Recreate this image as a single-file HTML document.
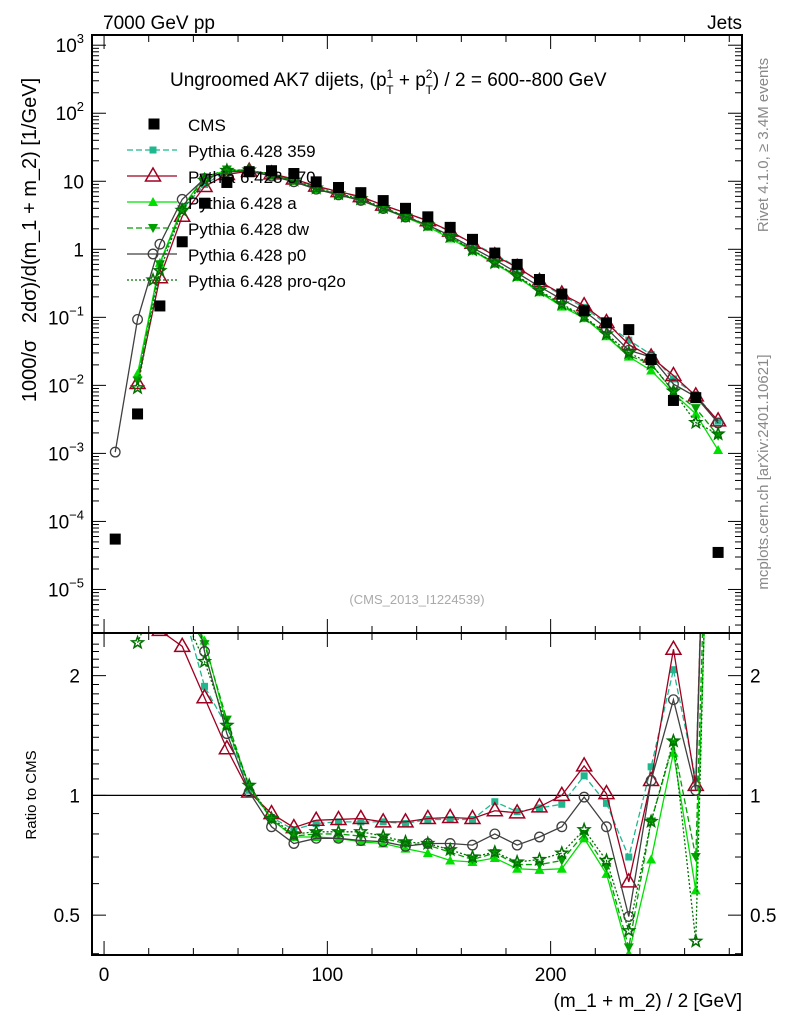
<!DOCTYPE html>
<html><head><meta charset="utf-8">
<style>
html,body{margin:0;padding:0;background:#fff;}
svg{display:block;font-family:"Liberation Sans",sans-serif;}
</style></head>
<body>
<svg id="chart" width="786" height="1024" viewBox="0 0 786 1024" xmlns="http://www.w3.org/2000/svg">
<rect x="0" y="0" width="786" height="1024" fill="#fff"/>
<text x="103" y="29" font-size="19">7000 GeV pp</text>
<text x="742" y="29" font-size="19" text-anchor="end">Jets</text>
<text x="170" y="86" font-size="19">Ungroomed AK7 dijets, (p<tspan font-size="12" dy="-8">1</tspan><tspan font-size="12" dx="-7" dy="16">T</tspan><tspan dy="-8"> + p</tspan><tspan font-size="12" dy="-8">2</tspan><tspan font-size="12" dx="-7" dy="16">T</tspan><tspan dy="-8">) / 2 = 600--800 GeV</tspan></text>
<text transform="translate(36,240) rotate(-90)" font-size="20" text-anchor="middle">1000/σ&#160;&#160;&#160;2dσ)/d(m_1 + m_2) [1/GeV]</text>
<text transform="translate(36,795) rotate(-90)" font-size="15" text-anchor="middle">Ratio to CMS</text>
<text x="742" y="1007" font-size="19" text-anchor="end">(m_1 + m_2) / 2 [GeV]</text>
<text transform="translate(768,145) rotate(-90)" font-size="15" fill="#888" text-anchor="middle">Rivet 4.1.0, ≥ 3.4M events</text>
<text transform="translate(768,472) rotate(-90)" font-size="15" fill="#888" text-anchor="middle">mcplots.cern.ch [arXiv:2401.10621]</text>
<text x="417" y="604" font-size="13" fill="#aaa" text-anchor="middle">(CMS_2013_I1224539)</text>
<g id="main"></g>
<g id="ratio"></g>
<g id="axes"></g>
<g id="legend"></g>
</svg>
<script>
const bins = [5,15,25,35,45,55,65,75,85,95,105,115,125,135,145,155,165,175,185,195,205,215,225,235,245,255,265,275];
const cms = [5.5e-5,3.8e-3,0.147,1.29,4.76,9.6,13.8,14.3,13,9.8,8.1,6.8,5.2,4.0,3.0,2.1,1.4,0.88,0.60,0.36,0.22,0.125,0.083,0.066,0.024,0.006,0.0066,3.5e-5];
const r359 = [null,3.3,4.0,3.0,1.88,1.49,1.03,0.88,0.82,0.85,0.858,0.858,0.858,0.85,0.87,0.87,0.87,0.964,0.91,0.93,0.95,1.12,0.955,0.7,1.18,2.07,1.1,85];
const r370 = [null,2.8,2.6,2.37,1.76,1.31,1.02,0.90,0.83,0.866,0.87,0.875,0.858,0.858,0.875,0.88,0.875,0.915,0.904,0.936,1.0,1.186,1.01,0.606,1.09,2.33,1.06,86];
const rA = [null,3.9,4.3,3.2,2.45,1.5,1.055,0.87,0.786,0.786,0.78,0.764,0.757,0.735,0.716,0.686,0.68,0.696,0.654,0.65,0.654,0.78,0.635,0.40,0.69,1.28,0.577,32];
const rDW = [null,3.1,4.1,3.0,2.4,1.55,1.05,0.87,0.79,0.80,0.80,0.79,0.78,0.757,0.75,0.72,0.69,0.716,0.67,0.67,0.686,0.80,0.66,0.415,0.86,1.35,0.70,52];
const rP0 = [19,24.5,8.1,4.2,2.3,1.43,1.02,0.834,0.757,0.78,0.78,0.77,0.765,0.745,0.757,0.757,0.75,0.80,0.75,0.786,0.834,0.99,0.834,0.496,1.09,1.74,1.03,80];
const rQ2O = [null,2.42,3.3,2.9,2.17,1.5,1.06,0.875,0.80,0.81,0.81,0.81,0.79,0.764,0.757,0.73,0.70,0.72,0.68,0.69,0.716,0.82,0.686,0.457,0.86,1.37,0.43,55];
const seriesNames = ["Pythia 6.428 359","Pythia 6.428 370","Pythia 6.428 a","Pythia 6.428 dw","Pythia 6.428 p0","Pythia 6.428 pro-q2o"];
const mainTicks = [3,2,1,0,-1,-2,-3,-4,-5];
const ratioTicks = [0.5,1,2];
const xTicks = [0,100,200];

const NS="http://www.w3.org/2000/svg";
const X0=92,X1=742,MT=35,MB=633,RB=955;
const xMin=-5.4,xMax=285.7;
const yTop=3.15,yBot=-5.64;
const rTop=Math.log10(2.56),rBot=Math.log10(0.397);
function xs(v){return X0+(v-xMin)/(xMax-xMin)*(X1-X0);}
function ys(v){return MT+(yTop-Math.log10(v))/(yTop-yBot)*(MB-MT);}
function yr(v){return MB+(rTop-Math.log10(v))/(rTop-rBot)*(RB-MB);}
function mk(tag,attrs,parent){const e=document.createElementNS(NS,tag);for(const k in attrs)e.setAttribute(k,attrs[k]);parent.appendChild(e);return e;}

const styles=[
 {c:"#1fb88e",dash:"6,3",m:"sq"},
 {c:"#a00020",dash:"",m:"tri"},
 {c:"#00e000",dash:"",m:"ftri"},
 {c:"#00a000",dash:"6,3",m:"dtri"},
 {c:"#404040",dash:"",m:"circ"},
 {c:"#007000",dash:"2,2",m:"star"}];
const ratios=[r359,r370,rA,rDW,rP0,rQ2O];

function marker(g,type,x,y,c){
 let e;
 if(type==="sq") e=mk("rect",{x:x-3.5,y:y-3.5,width:7,height:7,fill:c},g);
 else if(type==="tri") e=mk("polygon",{points:`${x},${y-8} ${x-7.5},${y+5} ${x+7.5},${y+5}`,fill:"none",stroke:c,"stroke-width":1.5},g);
 else if(type==="ftri") e=mk("polygon",{points:`${x},${y-5} ${x-5},${y+4} ${x+5},${y+4}`,fill:c},g);
 else if(type==="dtri") e=mk("polygon",{points:`${x},${y+5} ${x-5},${y-4} ${x+5},${y-4}`,fill:c},g);
 else if(type==="circ") e=mk("circle",{cx:x,cy:y,r:4.8,fill:"none",stroke:c,"stroke-width":1.3},g);
 else if(type==="star"){let p=[];for(let i=0;i<10;i++){const a=-Math.PI/2+i*Math.PI/5,r=i%2?2.5:6;p.push((x+r*Math.cos(a)).toFixed(1)+","+(y+r*Math.sin(a)).toFixed(1));}e=mk("polygon",{points:p.join(" "),fill:"none",stroke:c,"stroke-width":1.5},g);}
 else if(type==="cms") e=mk("rect",{x:x-5.5,y:y-5.5,width:11,height:11,fill:"#000"},g);
 return e;
}

const mainG=document.getElementById("main"), ratioG=document.getElementById("ratio");
const defs=mk("defs",{},document.getElementById("chart"));
const cp1=mk("clipPath",{id:"cm"},defs);mk("rect",{x:X0,y:MT,width:X1-X0,height:MB-MT},cp1);
const cp2=mk("clipPath",{id:"cr"},defs);mk("rect",{x:X0,y:MB,width:X1-X0,height:RB-MB},cp2);
mainG.setAttribute("clip-path","url(#cm)");ratioG.setAttribute("clip-path","url(#cr)");

const refLine=mk("line",{x1:X0,x2:X1,y1:yr(1),y2:yr(1),stroke:"#000","stroke-width":1.3},ratioG);



ratios.forEach((r,s)=>{
 const st=styles[s];
 const mg=mk("g",{},mainG);
 
 
 const rg=mk("g",{},ratioG);
 
 
 let pm=[],pr=[];
 bins.forEach((b,i)=>{ if(r[i]==null)return; pm.push([xs(b),ys(r[i]*cms[i])]); pr.push([xs(b),yr(r[i])]); });
 mk("polyline",{points:pm.map(p=>p.join(",")).join(" "),fill:"none",stroke:st.c,"stroke-width":1.3,"stroke-dasharray":st.dash},mg);
 mk("polyline",{points:pr.map(p=>p.join(",")).join(" "),fill:"none",stroke:st.c,"stroke-width":1.3,"stroke-dasharray":st.dash},rg);
 pm.forEach(p=>{const m=marker(mg,st.m,p[0],p[1],st.c);});
 pr.forEach(p=>{const m=marker(rg,st.m,p[0],p[1],st.c);});
});
bins.forEach((b,i)=>{const m=marker(mainG,"cms",xs(b),ys(cms[i]));
 
 });

const ax=document.getElementById("axes");
mk("rect",{x:X0,y:MT,width:X1-X0,height:MB-MT,fill:"none",stroke:"#000","stroke-width":2},ax);
mk("rect",{x:X0,y:MB,width:X1-X0,height:RB-MB,fill:"none",stroke:"#000","stroke-width":2},ax);
for(let v=0;v<=280;v+=20){const x=xs(v),L=v%100===0?14:7;
 [[MT,MT+L],[MB,MB-L],[MB,MB+L],[RB,RB-L]].forEach(t=>mk("line",{x1:x,x2:x,y1:t[0],y2:t[1],stroke:"#000","stroke-width":1},ax));}
xTicks.forEach(v=>{const t=mk("text",{x:xs(v),y:981,"font-size":19,"text-anchor":"middle"},ax);t.textContent=v;
 });
mainTicks.forEach(e=>{const y=ys(Math.pow(10,e));
 mk("line",{x1:X0,x2:X0+14,y1:y,y2:y,stroke:"#000"},ax);mk("line",{x1:X1,x2:X1-14,y1:y,y2:y,stroke:"#000"},ax);
 for(let k=2;k<10;k++){const yy=ys(k*Math.pow(10,e-1));if(yy>MB||yy<MT)continue;
  mk("line",{x1:X0,x2:X0+7,y1:yy,y2:yy,stroke:"#000"},ax);mk("line",{x1:X1,x2:X1-7,y1:yy,y2:yy,stroke:"#000"},ax);}
 const t=mk("text",{x:84,y:y+7,"font-size":19,"text-anchor":"end"},ax);
 if(e===0)t.textContent="1";else if(e===1)t.textContent="10";
 else{t.textContent="10";const s=mk("tspan",{"font-size":13,dy:-9},t);s.textContent=e<0?"\u2212"+(-e):e;}
 });
for(let v=0.4;v<=2.5;v+=0.1){const y=yr(v);const major=ratioTicks.some(r=>Math.abs(r-v)<1e-6);
 if(Math.abs(v*10-Math.round(v*10))>1e-6)continue;
 const L=major?14:7;mk("line",{x1:X0,x2:X0+L,y1:y,y2:y,stroke:"#000"},ax);mk("line",{x1:X1,x2:X1-L,y1:y,y2:y,stroke:"#000"},ax);}
ratioTicks.forEach(v=>{const y=yr(v);
 const t=mk("text",{x:80,y:y+7,"font-size":19,"text-anchor":"end"},ax);t.textContent=v;
 
 const t2=mk("text",{x:750,y:y+7,"font-size":19},ax);t2.textContent=v;
 });

const lg=document.getElementById("legend");
const ly0=124,ld=26;
const ce=mk("g",{},lg);


marker(ce,"cms",154,ly0);
const ct=mk("text",{x:188,y:ly0+7,"font-size":17},ce);ct.textContent="CMS";
seriesNames.forEach((n,s)=>{const y=ly0+(s+1)*ld,st=styles[s];
 const g=mk("g",{},lg);
 
 
 mk("line",{x1:127,x2:177,y1:y,y2:y,stroke:st.c,"stroke-width":1.3,"stroke-dasharray":st.dash},g);
 marker(g,st.m,153,y,st.c);
 const t=mk("text",{x:188,y:y+7,"font-size":17},g);t.textContent=n;});
</script>
</body></html>
